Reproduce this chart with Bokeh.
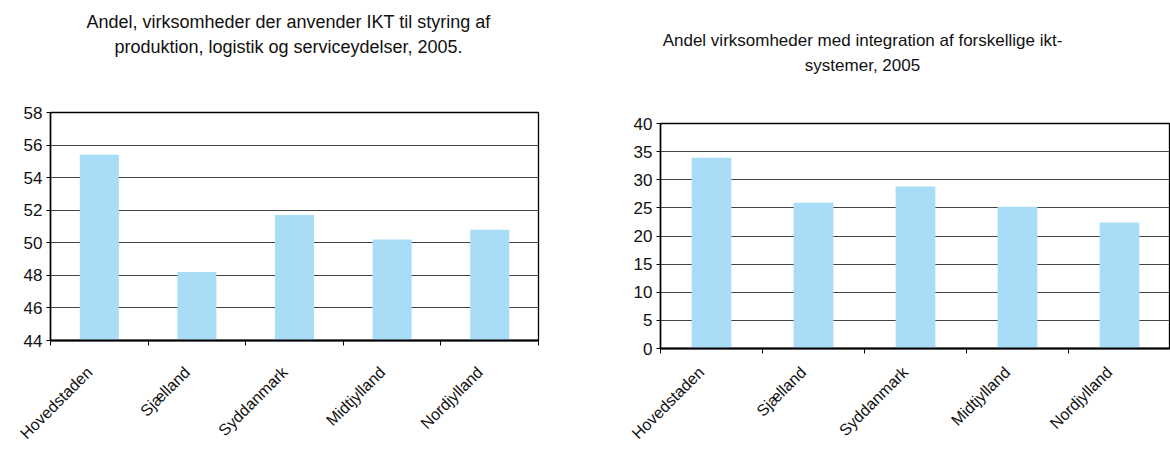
from math import pi
from bokeh.plotting import figure
from bokeh.models import (Range1d, LinearAxis, FixedTicker, ColumnDataSource)
from bokeh.core.properties import value
from bokeh.layouts import row, column
from bokeh.embed import file_html
from bokeh.resources import INLINE

# ---- data ----
regions = ["Hovedstaden", "Sjælland", "Syddanmark", "Midtjylland", "Nordjylland"]
styring_values = [55.4, 48.2, 51.7, 50.2, 50.8]
integration_values = [33.9, 25.9, 28.8, 25.2, 22.4]
left_yticks = [44, 46, 48, 50, 52, 54, 56, 58]
right_yticks = [0, 5, 10, 15, 20, 25, 30, 35, 40]
left_title = ["Andel, virksomheder der anvender IKT til styring af",
              "produktion, logistik og serviceydelser, 2005."]
right_title = ["Andel virksomheder med integration af forskellige ikt-",
               "systemer, 2005"]

FONT = "Liberation Sans"
BAR = "#a9dcf6"
TITLE_H = 96


def make_title(lines, width, bl, br, cx, ys, fs):
    fw = width - bl - br
    t = figure(x_range=Range1d(0, fw), y_range=Range1d(0, TITLE_H),
               width=width, height=TITLE_H, output_backend="svg",
               toolbar_location=None, x_axis_location=None,
               y_axis_location=None, min_border_left=bl,
               min_border_right=br, min_border_top=0, min_border_bottom=0)
    t.outline_line_color = None
    t.xgrid.grid_line_color = None
    t.ygrid.grid_line_color = None
    t.text(x=[cx] * len(lines), y=ys, text=lines, text_align="center",
           text_baseline="middle", text_font=value(FONT),
           text_font_size=fs, text_color="#111111")
    return t


def make_chart(values, yticks, width, height, bl, br, bt, bb, bar_w, standoff):
    n = len(regions)
    centers = [i + 0.5 for i in range(n)]
    p = figure(x_range=Range1d(0, n),
               y_range=Range1d(yticks[0], yticks[-1]),
               width=width, height=height, output_backend="svg",
               toolbar_location=None, x_axis_location=None,
               min_border_left=bl, min_border_right=br,
               min_border_top=bt, min_border_bottom=bb)
    p.background_fill_color = "white"
    p.border_fill_color = "white"
    p.outline_line_color = "black"
    p.outline_line_width = 1.3

    src = ColumnDataSource(dict(x=centers, top=values,
                                bottom=[yticks[0]] * n, name=regions))
    p.vbar(x="x", top="top", bottom="bottom", width=bar_w, source=src,
           fill_color=BAR, line_color=None)

    ya = p.yaxis[0]
    ya.ticker = FixedTicker(ticks=yticks)
    ya.axis_line_color = "black"
    ya.axis_line_width = 1.5
    ya.major_tick_in = 0
    ya.major_tick_out = 4
    ya.minor_tick_line_color = None
    ya.major_label_text_font = FONT
    ya.major_label_text_font_size = "17px"
    ya.major_label_text_color = "#111111"
    ya.major_label_standoff = 4

    p.ygrid.ticker = FixedTicker(ticks=yticks)
    p.ygrid.grid_line_color = "#444444"
    p.ygrid.grid_line_width = 1
    p.xgrid.grid_line_color = None

    ta = LinearAxis(ticker=FixedTicker(ticks=list(range(n + 1))),
                    axis_line_color="black", axis_line_width=1.8,
                    major_tick_in=0, major_tick_out=5,
                    major_tick_line_color="black",
                    minor_tick_line_color=None,
                    major_label_text_font_size="1px",
                    major_label_text_alpha=0,
                    major_label_standoff=0)
    p.add_layout(ta, "below")

    label_pos = [c - 0.1 for c in centers]
    ca = LinearAxis(ticker=FixedTicker(ticks=label_pos),
                    major_label_overrides={c: r for c, r in zip(label_pos, regions)},
                    axis_line_color=None, major_tick_line_color=None,
                    minor_tick_line_color=None,
                    major_label_orientation=pi / 4,
                    major_label_text_font=FONT,
                    major_label_text_font_size="16px",
                    major_label_text_color="#111111",
                    major_label_standoff=standoff)
    p.add_layout(ca, "below")
    return p


W1, W2 = 608, 562
CH = 356
t1 = make_title(left_title, W1, 50, 70, 238, [75, 50], "18px")
p1 = make_chart(styring_values, left_yticks, W1, CH, 50, 70, 16, 112, 0.4, 18)
t2 = make_title(right_title, W2, 52, 0, 202, [56, 31], "17px")
p2 = make_chart(integration_values, right_yticks, W2, CH, 52, 0, 27, 104, 0.39, 10)

layout = row(column(t1, p1), column(t2, p2))
open("out.html", "w").write(file_html(layout, INLINE))
